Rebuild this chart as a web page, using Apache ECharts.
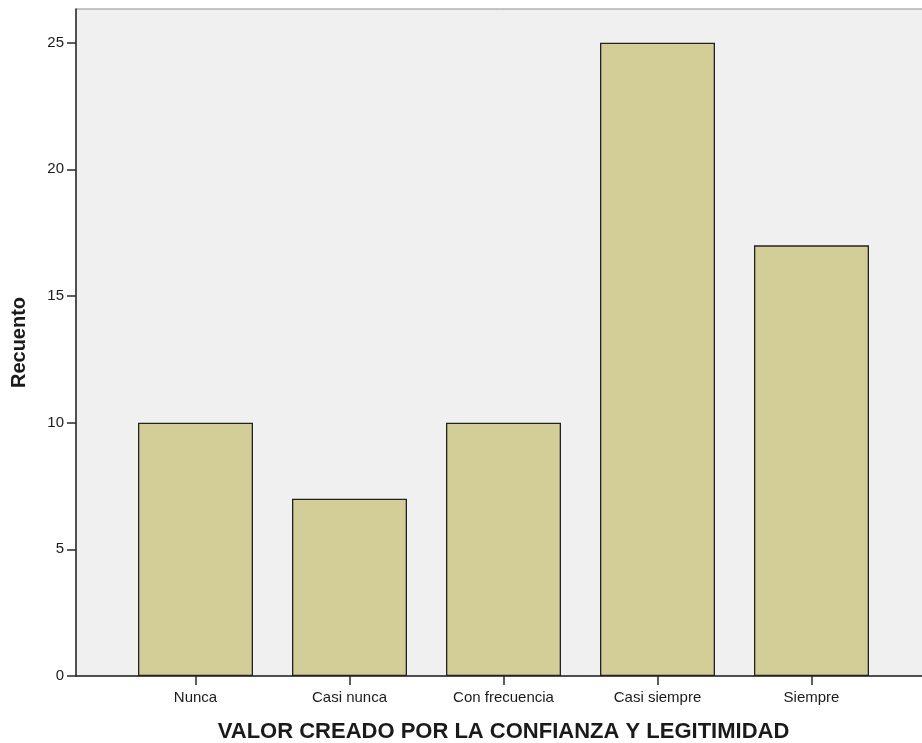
<!DOCTYPE html>
<html>
<head>
<meta charset="utf-8">
<style>
  html, body { margin: 0; padding: 0; background: #ffffff; }
  #chart { width: 922px; height: 743px; }
</style>
<script src="https://cdn.jsdelivr.net/npm/echarts@6/dist/echarts.min.js"></script>
</head>
<body>
<div id="chart"></div>
<script>
const categories = ["Nunca", "Casi nunca", "Con frecuencia", "Casi siempre", "Siempre"];
const counts = [10, 7, 10, 25, 17];
const yTicks = [0, 5, 10, 15, 20, 25];
const xTitle = "VALOR CREADO POR LA CONFIANZA Y LEGITIMIDAD";
const yTitle = "Recuento";

const FONT = 'Arial, "Liberation Sans", sans-serif';
const positions = categories.map((c, i) => i);
const barData = categories.map((c, i) => [i, counts[i]]);

const chart = echarts.init(document.getElementById('chart'), null, { renderer: 'canvas' });
chart.setOption({
  animation: false,
  backgroundColor: '#ffffff',
  grid: {
    left: 76, top: 9, right: -9, bottom: 67,
    show: true,
    backgroundColor: '#f0f0f0',
    borderColor: '#8c8c8c',
    borderWidth: 1,
    containLabel: false,
    outerBoundsMode: 'none'
  },
  xAxis: {
    type: 'value',
    min: -0.776,
    max: 4.776,
    name: xTitle,
    nameLocation: 'middle',
    nameGap: 45,
    nameTextStyle: { fontFamily: FONT, fontSize: 22, fontWeight: 'bold', color: '#1a1a1a' },
    axisLine: { show: true, onZero: false, lineStyle: { color: '#2a2a2a', width: 1.5 } },
    axisTick: { show: true, customValues: positions, length: 9, inside: false, lineStyle: { color: '#2a2a2a', width: 1.5 } },
    axisLabel: {
      customValues: positions,
      formatter: v => categories[Math.round(v)] || '',
      margin: 14,
      fontFamily: FONT, fontSize: 15, color: '#1a1a1a'
    },
    splitLine: { show: false }
  },
  yAxis: {
    type: 'value',
    min: 0,
    max: 26.33,
    interval: 5,
    name: yTitle,
    nameLocation: 'middle',
    nameGap: 47,
    nameTextStyle: { fontFamily: FONT, fontSize: 20, fontWeight: 'bold', color: '#1a1a1a' },
    axisLine: { show: true, onZero: false, lineStyle: { color: '#2a2a2a', width: 1.5 } },
    axisTick: { show: true, customValues: yTicks, length: 9, lineStyle: { color: '#2a2a2a', width: 1.5 } },
    axisLabel: {
      customValues: yTicks,
      margin: 12,
      padding: [2, 0, 0, 0],
      fontFamily: FONT, fontSize: 15, color: '#1a1a1a'
    },
    splitLine: { show: false }
  },
  series: [{
    type: 'bar',
    data: barData,
    barWidth: 115,
    itemStyle: { color: '#d3ce97', borderColor: '#222222', borderWidth: 1.3 }
  }]
});
</script>
</body>
</html>
